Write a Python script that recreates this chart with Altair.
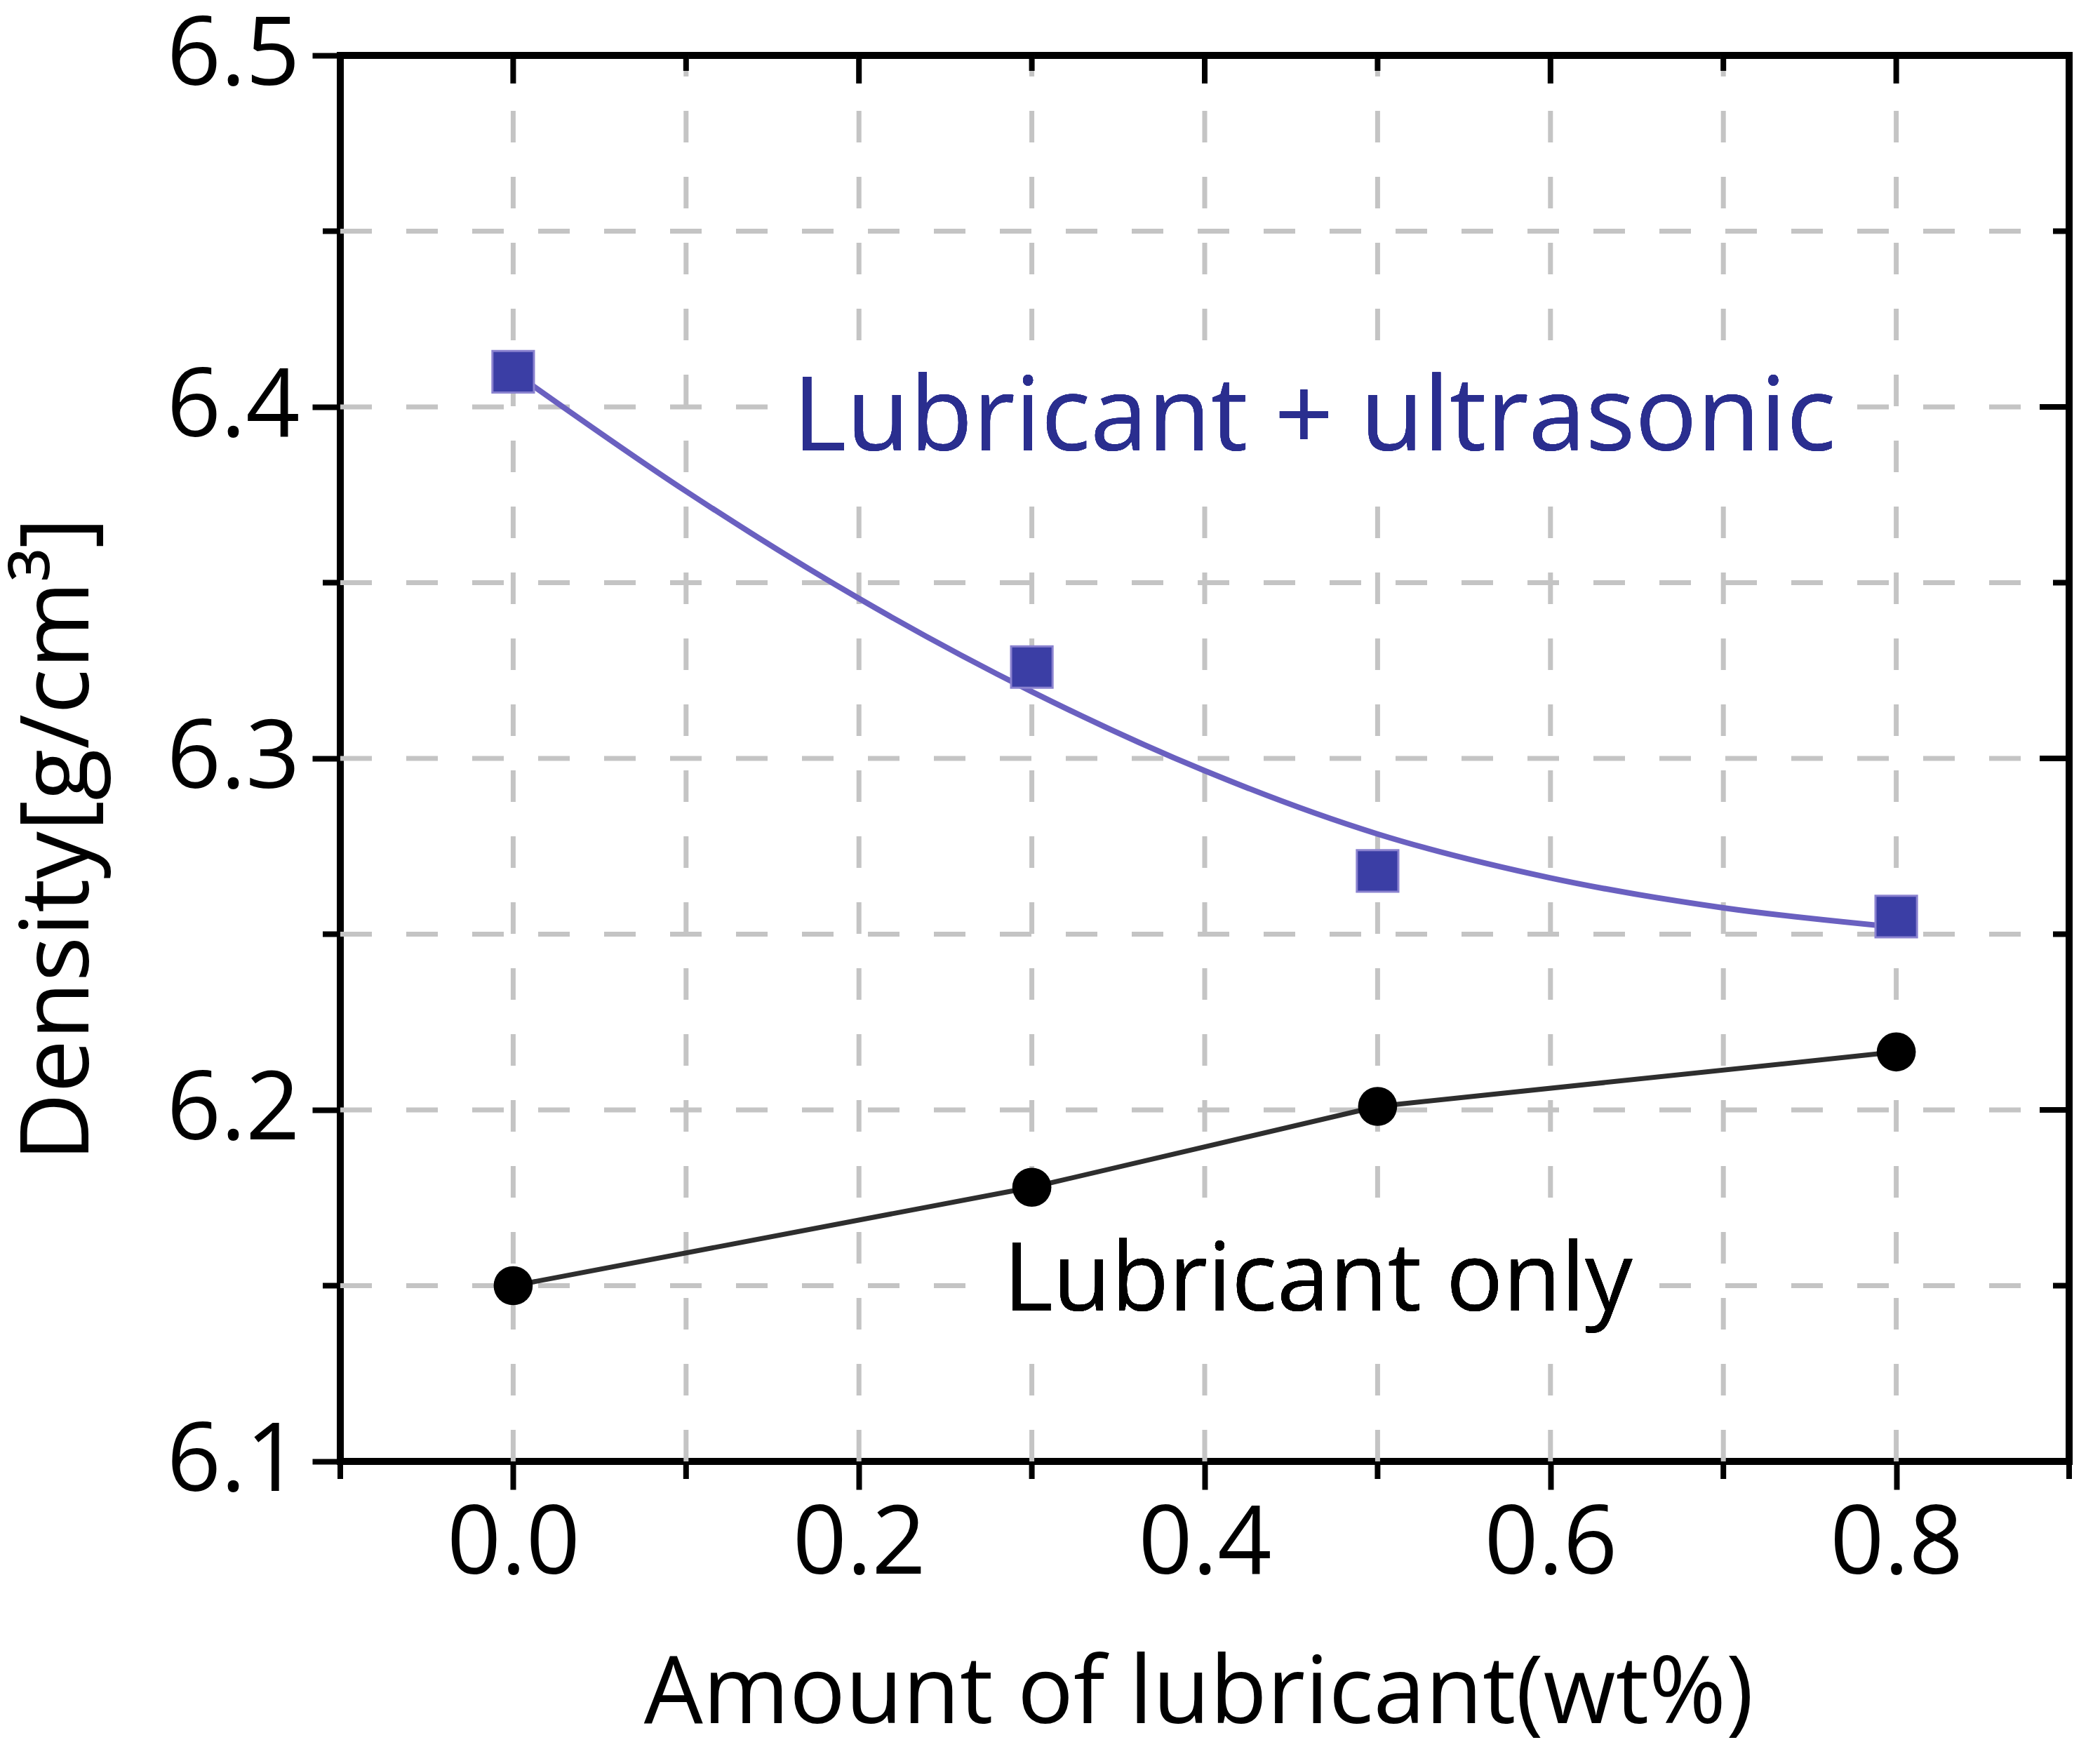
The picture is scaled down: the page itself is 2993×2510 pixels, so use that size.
import altair as alt
import pandas as pd

# ---------------- data ----------------
x_points = [0.0, 0.3, 0.5, 0.8]
ultrasonic = [6.410, 6.326, 6.268, 6.255]          # blue squares
lubricant_only = [6.150, 6.178, 6.201, 6.2165]     # black circles

# smooth fitted curve through the ultrasonic series
fit_x = [0.0, 0.1, 0.2, 0.3, 0.4, 0.5, 0.6, 0.7, 0.8]
fit_y = [6.410, 6.376, 6.3455, 6.319, 6.2965, 6.2785, 6.266, 6.2575, 6.252]

x_major = [0.0, 0.2, 0.4, 0.6, 0.8]
x_minor = [-0.1, 0.1, 0.3, 0.5, 0.7, 0.9]
y_major = [6.1, 6.2, 6.3, 6.4, 6.5]
y_minor = [6.15, 6.25, 6.35, 6.45]
grid_x = [0.0, 0.1, 0.2, 0.3, 0.4, 0.5, 0.6, 0.7, 0.8]
grid_y = [6.15, 6.2, 6.25, 6.3, 6.35, 6.4, 6.45]

label_blue = "Lubricant + ultrasonic"
label_black = "Lubricant only"
x_title = "Amount of lubricant(wt%)"
y_title = "Density[g/cm³]"

# ---------------- layout ----------------
W, H = 2464, 2004
FONT = "Open Sans"
BLUE_TEXT = "#2a2e8f"
SQ_FILL = "#3b3ea5"
CURVE = "#6a60c0"
GRID = "#c4c4c4"

xs = alt.Scale(domain=[-0.1, 0.9], nice=False, zero=False)
ys = alt.Scale(domain=[6.1, 6.5], nice=False, zero=False)

xaxis = alt.Axis(values=x_major, format=".1f", title=x_title, grid=False, domain=False,
                 ticks=True, tickSize=40, tickWidth=8, tickColor="black",
                 labelFont=FONT, labelFontSize=135, labelColor="black", labelLimit=1000,
                 labelPadding=119, labelBaseline="alphabetic", labelFlush=False,
                 labelOverlap=False, labelBound=False,
                 titleFont=FONT, titleFontSize=133, titleFontWeight="normal",
                 titleColor="black", titleX=1223, titleY=372, titleLimit=3000,
                 titleBaseline="alphabetic", titleAlign="center")
yaxis = alt.Axis(values=y_major, format=".1f", title=y_title, grid=False, domain=False,
                 ticks=True, tickSize=40, tickWidth=8, tickColor="black",
                 labelFont=FONT, labelFontSize=135, labelColor="black", labelLimit=1000,
                 labelPadding=18, labelFlush=False, labelOverlap=False, labelBound=False,
                 titleFont=FONT, titleFontSize=135, titleFontWeight="normal",
                 titleColor="black", titleAngle=270, titleX=-360, titleY=1117,
                 titleLimit=3000, titleBaseline="alphabetic", titleAlign="center")


def X(field=None, datum=None):
    if datum is not None:
        return alt.X(datum=datum, type="quantitative", scale=xs, axis=xaxis)
    return alt.X(field, type="quantitative", scale=xs, axis=xaxis)


def Y(field=None, datum=None):
    if datum is not None:
        return alt.Y(datum=datum, type="quantitative", scale=ys, axis=yaxis)
    return alt.Y(field, type="quantitative", scale=ys, axis=yaxis)


def X2(datum):
    return alt.X2(datum=datum)


def Y2(datum):
    return alt.Y2(datum=datum)


pts = pd.DataFrame({"x": x_points, "u": ultrasonic, "l": lubricant_only})
fit = pd.DataFrame({"x": fit_x, "y": fit_y})
gx = pd.DataFrame({"v": grid_x})
gy = pd.DataFrame({"v": grid_y})
xmaj = pd.DataFrame({"v": x_major})
xmin = pd.DataFrame({"v": x_minor})
ymaj = pd.DataFrame({"v": y_major})
ymin = pd.DataFrame({"v": y_minor})

# gridlines
grid_v = alt.Chart(gx).mark_rule(color=GRID, strokeWidth=7, strokeDash=[45, 49]).encode(
    x=X("v"), y=alt.value(H), y2=alt.value(0))
grid_h = alt.Chart(gy).mark_rule(color=GRID, strokeWidth=7, strokeDash=[45, 49]).encode(
    y=Y("v"), x=alt.value(0), x2=alt.value(W))

# white boxes behind labels
box_blue = alt.Chart(pts).mark_rect(color="white").encode(
    x=X(datum=0.154), x2=X2(0.771), y=Y(datum=6.4158), y2=Y2(6.3788))
box_black = alt.Chart(pts).mark_rect(color="white").encode(
    x=X(datum=0.276), x2=X2(0.649), y=Y(datum=6.1655), y2=Y2(6.1335))

# minor / mirror ticks
tick_kw = dict(color="black", strokeWidth=8)
bottom_minor = alt.Chart(xmin).mark_rule(**tick_kw).encode(
    x=X("v"), y=alt.value(H), y2=alt.value(H + 25))
left_minor = alt.Chart(ymin).mark_rule(**tick_kw).encode(
    y=Y("v"), x=alt.value(0), x2=alt.value(-25))
top_major = alt.Chart(xmaj).mark_rule(**tick_kw).encode(
    x=X("v"), y=alt.value(0), y2=alt.value(40))
top_minor = alt.Chart(xmin).mark_rule(**tick_kw).encode(
    x=X("v"), y=alt.value(0), y2=alt.value(22))
right_major = alt.Chart(ymaj).mark_rule(**tick_kw).encode(
    y=Y("v"), x=alt.value(W), x2=alt.value(W - 42))
right_minor = alt.Chart(ymin).mark_rule(**tick_kw).encode(
    y=Y("v"), x=alt.value(W), x2=alt.value(W - 23))

# data lines & points
curve = alt.Chart(fit).mark_line(color=CURVE, strokeWidth=8, interpolate="monotone").encode(
    x=X("x"), y=Y("y"))
black_line = alt.Chart(pts).mark_line(color="#2e2e2e", strokeWidth=7).encode(
    x=X("x"), y=Y("l"))
squares = alt.Chart(pts).mark_point(shape="square", filled=True, size=3500, fill=SQ_FILL,
                                     stroke="#8a82cf", strokeWidth=3, opacity=1).encode(
    x=X("x"), y=Y("u"))
circles = alt.Chart(pts).mark_point(shape="circle", filled=True, size=3100, fill="black",
                                     opacity=1).encode(
    x=X("x"), y=Y("l"))

text_blue = alt.Chart(pts).mark_text(text=label_blue, font=FONT, fontSize=147, color=BLUE_TEXT,
                                     align="center", baseline="alphabetic").encode(
    x=X(datum=0.4633), y=Y(datum=6.3876))
text_black = alt.Chart(pts).mark_text(text=label_black, font=FONT, fontSize=135, color="black",
                                      align="center", baseline="alphabetic").encode(
    x=X(datum=0.4655), y=Y(datum=6.1429))

chart = alt.layer(
    grid_v, grid_h, box_blue, box_black,
    bottom_minor, left_minor, top_major, top_minor, right_major, right_minor,
    curve, black_line, squares, circles, text_blue, text_black,
).properties(
    width=W, height=H,
    autosize=alt.AutoSizeParams(type="none"),
    padding={"left": 477, "top": 71, "right": 25, "bottom": 420},
    background="white",
).configure(
    font=FONT
).configure_view(
    stroke="black", strokeWidth=10
)

chart.save("out.html", embed_options={"renderer": "svg", "actions": False})
